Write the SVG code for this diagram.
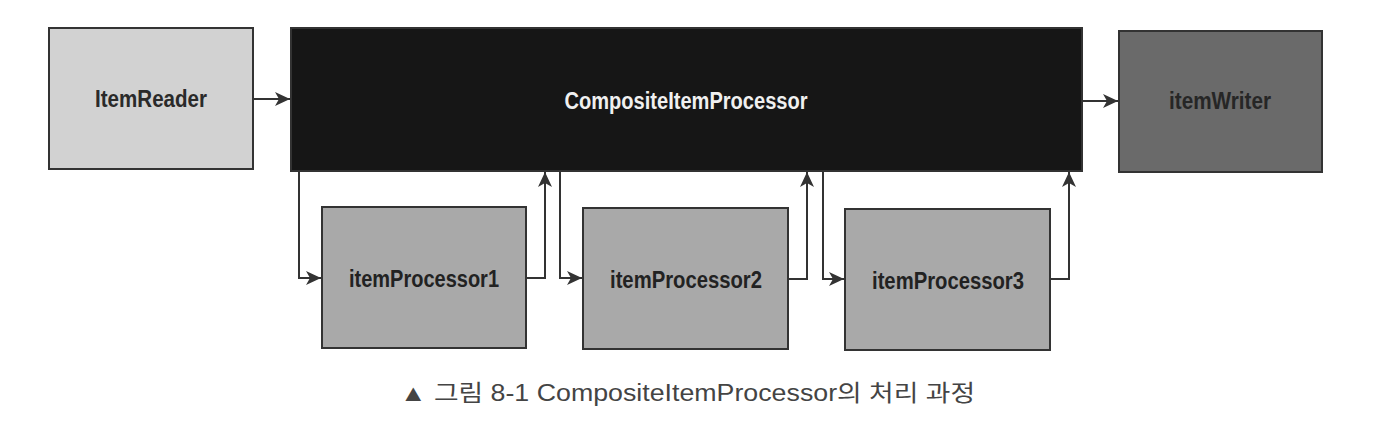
<svg xmlns="http://www.w3.org/2000/svg" width="1382" height="430" viewBox="0 0 1382 430">
<style>
.box{stroke:#333;stroke-width:2}
.lbl{font-family:"Liberation Sans Narrow","Liberation Sans",Arial,sans-serif;font-weight:bold;font-size:23px;text-anchor:middle}
.con{fill:none;stroke:#333;stroke-width:2}
.cap{font-family:"Liberation Sans","Noto Sans CJK KR",sans-serif;font-size:23px;fill:#444}
</style>
<defs>
<marker id="ah" markerUnits="userSpaceOnUse" markerWidth="16" markerHeight="14" refX="15" refY="7" orient="auto">
<path d="M0,0 L15,7 L0,14 L4,7 Z" fill="#333"/>
</marker>
</defs>
<rect width="1382" height="430" fill="#fff"/>
<g id="itemReader">
<rect class="box" x="49" y="28" width="204" height="141" fill="#d2d2d2"/>
<text class="lbl" x="151" y="107" fill="#2a2a2a" textLength="112" lengthAdjust="spacingAndGlyphs">ItemReader</text>
</g>
<g id="compositeItemProcessor">
<rect class="box" x="291" y="28" width="791" height="143" fill="#161616"/>
<text class="lbl" x="686" y="109" fill="#f0f0f0" textLength="243" lengthAdjust="spacingAndGlyphs">CompositeItemProcessor</text>
</g>
<g id="itemWriter">
<rect class="box" x="1119" y="31" width="203" height="141" fill="#6a6a6a"/>
<text class="lbl" x="1220" y="109" fill="#262626" textLength="102" lengthAdjust="spacingAndGlyphs">itemWriter</text>
</g>
<g id="itemProcessor1">
<rect class="box" x="322" y="207" width="204" height="141" fill="#a9a9a9"/>
<text class="lbl" x="424" y="287" fill="#222" textLength="150" lengthAdjust="spacingAndGlyphs">itemProcessor1</text>
</g>
<g id="itemProcessor2">
<rect class="box" x="583" y="208" width="205" height="141" fill="#a9a9a9"/>
<text class="lbl" x="686" y="288" fill="#222" textLength="152" lengthAdjust="spacingAndGlyphs">itemProcessor2</text>
</g>
<g id="itemProcessor3">
<rect class="box" x="845" y="209" width="205" height="141" fill="#a9a9a9"/>
<text class="lbl" x="948" y="289" fill="#222" textLength="152" lengthAdjust="spacingAndGlyphs">itemProcessor3</text>
</g>
<g id="connectors">
<path class="con" d="M253 99 H290" marker-end="url(#ah)"/>
<path class="con" d="M1082 101 H1118" marker-end="url(#ah)"/>
<path class="con" d="M299 171 V278 H321" marker-end="url(#ah)"/>
<path class="con" d="M526 278 H545 V172" marker-end="url(#ah)"/>
<path class="con" d="M560 171 V278 H582" marker-end="url(#ah)"/>
<path class="con" d="M788 279 H807 V172" marker-end="url(#ah)"/>
<path class="con" d="M823 171 V279 H844" marker-end="url(#ah)"/>
<path class="con" d="M1050 279 H1069 V172" marker-end="url(#ah)"/>
</g>
<text class="cap" x="400" y="401" textLength="575" lengthAdjust="spacingAndGlyphs">▲ 그림 8-1  CompositeItemProcessor의 처리 과정</text>
</svg>
